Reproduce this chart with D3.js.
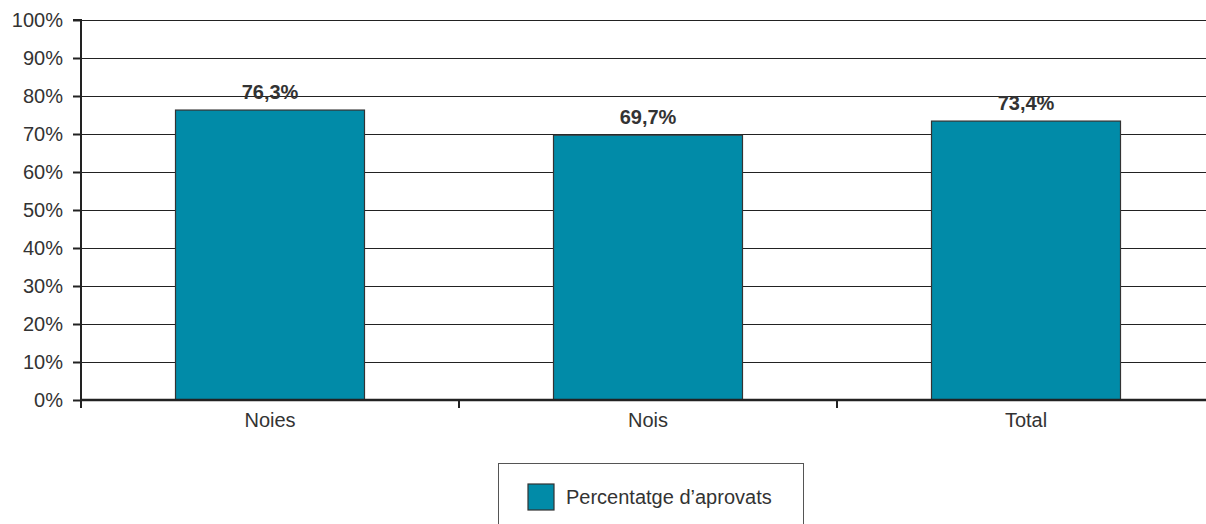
<!DOCTYPE html>
<html><head><meta charset="utf-8">
<script src="https://cdn.jsdelivr.net/npm/d3@7"></script>
<style>
body{margin:0;background:#fff;}
svg{display:block;font-family:"Liberation Sans",Arial,sans-serif;}
</style></head>
<body><svg id="c" width="1206" height="524"></svg>
<script>
const categories = ["Noies", "Nois", "Total"];
const values = [76.3, 69.7, 73.4];
const valueLabels = ["76,3%", "69,7%", "73,4%"];
const yTicks = [0,10,20,30,40,50,60,70,80,90,100];
const seriesName = "Percentatge d\u2019aprovats";

const svg = d3.select("#c");
const x0 = 81, x1 = 1215, yTop = 20, yBot = 400;
const x = d3.scaleBand().domain(categories).range([x0, x1]).paddingInner(0).paddingOuter(0);
const y = d3.scaleLinear().domain([0,100]).range([yBot, yTop]);
const textCol = "#333";
const fs = 20;

// gridlines
svg.append("g").selectAll("line").data(yTicks.filter(d=>d>0)).join("line")
  .attr("x1", x0).attr("x2", 1206).attr("y1", d=>y(d)+0.5).attr("y2", d=>y(d)+0.5)
  .attr("stroke", "#222").attr("stroke-width", 1.2);

// bars
const bw = x.bandwidth()*0.5;
svg.append("g").selectAll("rect").data(values).join("rect")
  .attr("x", (d,i)=>x(categories[i]) + x.bandwidth()/2 - bw/2)
  .attr("y", d=>y(d)).attr("width", bw).attr("height", d=>yBot - y(d))
  .attr("fill", "#018ba8").attr("stroke", "#333").attr("stroke-width", 1.2);

// value labels
svg.append("g").selectAll("text").data(values).join("text")
  .attr("x", (d,i)=>x(categories[i]) + x.bandwidth()/2)
  .attr("y", d=>y(d) - 11)
  .attr("text-anchor","middle").attr("font-weight","bold").attr("font-size", 20)
  .attr("fill", textCol).text((d,i)=>valueLabels[i]);

// y axis
const yAxis = d3.axisLeft(y).tickValues(yTicks).tickFormat(d=>d+"%").tickSize(8).tickPadding(10);
const gy = svg.append("g").attr("transform", `translate(${x0},0)`).call(yAxis);
gy.select(".domain").attr("stroke","#222").attr("stroke-width",2).attr("d", `M-8,${yTop}H0V${yBot+8}`);
gy.selectAll(".tick line").attr("stroke","#222").attr("stroke-width",2);
gy.selectAll(".tick text").attr("font-size",fs).attr("fill",textCol).attr("font-family","Liberation Sans, Arial, sans-serif");

// x axis
const xAxis = d3.axisBottom(x).tickSize(0).tickPadding(13);
const gx = svg.append("g").attr("transform", `translate(0,${yBot})`).call(xAxis);
gx.select(".domain").attr("stroke","#222").attr("stroke-width",2.5).attr("d", `M${x0},0H1206`);
gx.selectAll(".tick text").attr("font-size",fs).attr("fill",textCol).attr("font-family","Liberation Sans, Arial, sans-serif");
// band boundary ticks
svg.append("g").selectAll("line").data(categories.slice(1)).join("line")
  .attr("x1", d=>x(d)).attr("x2", d=>x(d)).attr("y1", yBot).attr("y2", yBot+8)
  .attr("stroke","#222").attr("stroke-width",2);

// legend
const lg = svg.append("g");
lg.append("rect").attr("x",498.5).attr("y",463.5).attr("width",305).attr("height",80)
  .attr("fill","none").attr("stroke","#555").attr("stroke-width",1);
lg.append("rect").attr("x",528).attr("y",484).attr("width",26).attr("height",26)
  .attr("fill","#018ba8").attr("stroke","#333").attr("stroke-width",1.2);
lg.append("text").attr("x",566).attr("y",504).attr("font-size",fs).attr("fill",textCol).text(seriesName);
</script></body></html>
